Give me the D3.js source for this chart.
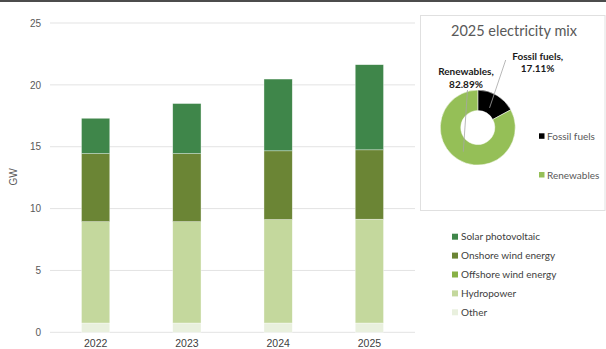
<!DOCTYPE html>
<html>
<head>
<meta charset="utf-8">
<script src="https://cdn.jsdelivr.net/npm/d3@7/dist/d3.min.js"></script>
<style>
  html, body { margin: 0; padding: 0; background: #fff; }
  svg { display: block; font-family: Lato, "Open Sans", sans-serif; }
</style>
</head>
<body>
<svg id="chart" width="606" height="349"></svg>
<script>
// Installed capacity by source (GW)
const years = ["2022", "2023", "2024", "2025"];
const other = [0.75, 0.75, 0.75, 0.75];
const hydropower = [8.19, 8.19, 8.36, 8.39];
const offshoreWind = [0, 0, 0, 0];
const onshoreWind = [5.50, 5.50, 5.56, 5.61];
const solarPV = [2.86, 4.05, 5.80, 6.88];
const yTicks = [0, 5, 10, 15, 20, 25];

// 2025 electricity mix (%)
const mixLabels = ["Fossil fuels", "Renewables"];
const mixShares = [17.11, 82.89];

const seriesNames = ["Other", "Hydropower", "Offshore wind energy", "Onshore wind energy", "Solar photovoltaic"];
const seriesColors = ["#e9f0de", "#c4d89d", "#88b146", "#6b8535", "#3f864a"];
const mixColors = ["#000000", "#95bf57"];

const svg = d3.select("#chart");

// top rule
svg.append("line").attr("x1", 0).attr("x2", 606).attr("y1", 1).attr("y2", 1)
  .attr("stroke", "#111").attr("stroke-width", 1.5);

// ---- stacked columns ----
const x = d3.scaleBand().domain(years).range([50, 415]).paddingInner(0.69).paddingOuter(0.345);
const y = d3.scaleLinear().domain([0, 25]).range([332.3, 23]);

svg.append("g").selectAll("line").data(yTicks).join("line")
  .attr("x1", 50).attr("x2", 415)
  .attr("y1", d => y(d)).attr("y2", d => y(d))
  .attr("stroke", "#e3e3e3").attr("stroke-width", 1);

const yAxis = d3.axisLeft(y).tickValues(yTicks).tickSize(0).tickPadding(9);
const gy = svg.append("g").attr("transform", "translate(50,0)").call(yAxis);
gy.select(".domain").remove();
gy.selectAll("text").attr("fill", "#595959").style("font-size", "10px")
  .style("font-family", "'Liberation Sans', Arial, sans-serif");

const xAxis = d3.axisBottom(x).tickSize(0).tickPadding(7);
const gx = svg.append("g").attr("transform", "translate(0,332.3)").call(xAxis);
gx.select(".domain").remove();
gx.selectAll("text").attr("fill", "#404040").style("font-size", "10.5px")
  .style("font-family", "'Liberation Sans', Arial, sans-serif");

svg.append("text").attr("transform", "translate(17,177) rotate(-90)")
  .attr("text-anchor", "middle").attr("fill", "#595959")
  .style("font-size", "10px").style("font-family", "'Liberation Sans', Arial, sans-serif")
  .text("GW");

const table = years.map((yr, i) => ({
  year: yr,
  "Other": other[i],
  "Hydropower": hydropower[i],
  "Offshore wind energy": offshoreWind[i],
  "Onshore wind energy": onshoreWind[i],
  "Solar photovoltaic": solarPV[i]
}));
const stacked = d3.stack().keys(seriesNames)(table);

svg.append("g").selectAll("g").data(stacked).join("g")
  .attr("fill", (d, i) => seriesColors[i])
  .selectAll("rect").data(d => d).join("rect")
  .attr("x", d => x(d.data.year))
  .attr("width", x.bandwidth())
  .attr("y", d => y(d[1]))
  .attr("height", d => y(d[0]) - y(d[1]))
  .attr("stroke", "#ffffff").attr("stroke-opacity", 0.6).attr("stroke-width", 0.6);

// bottom legend (top-down: solar first)
const legendOrder = seriesNames.slice().reverse();
const legColors = seriesColors.slice().reverse();
const lg = svg.append("g");
legendOrder.forEach((name, i) => {
  const cy = 236.7 + i * 18.9;
  lg.append("rect").attr("x", 452).attr("y", cy - 3).attr("width", 6).attr("height", 6)
    .attr("fill", legColors[i]);
  lg.append("text").attr("x", 461).attr("y", cy).attr("dy", "0.35em")
    .attr("fill", "#404040").style("font-size", "10px").text(name);
});

// ---- 2025 mix donut panel ----
svg.append("rect").attr("x", 420.5).attr("y", 15.5).attr("width", 184.5).attr("height", 195)
  .attr("fill", "#fff").attr("stroke", "#e0e0e0").attr("stroke-width", 1);

svg.append("text").attr("x", 514).attr("y", 36).attr("text-anchor", "middle")
  .attr("fill", "#595959").style("font-size", "14.5px").text("2025 electricity mix");

const cx = 477.8, cyD = 127.6, rOuter = 37.5, rInner = 17;
const pie = d3.pie().sort(null).value(d => d)(mixShares);
const arc = d3.arc().innerRadius(rInner).outerRadius(rOuter);
const donut = svg.append("g").attr("transform", `translate(${cx},${cyD})`);
donut.selectAll("path").data(pie).join("path")
  .attr("d", arc).attr("fill", (d, i) => mixColors[i])
  .attr("stroke", "#fff").attr("stroke-width", 0.5);

// leader lines from labels into the slices
const mid = d3.arc().innerRadius(rInner + 6).outerRadius(rInner + 6);
const leaders = [
  { from: [505.7, 60], to: mid.centroid(pie[0]) },
  { from: [467.5, 90], to: [463.3 - cx, 151.7 - cyD] }
];
leaders.forEach(l => {
  svg.append("line").attr("x1", l.from[0]).attr("y1", l.from[1])
    .attr("x2", cx + l.to[0]).attr("y2", cyD + l.to[1])
    .attr("stroke", "#a6a6a6").attr("stroke-width", 0.8);
});

const labelStyle = sel => sel.attr("text-anchor", "middle").attr("fill", "#1a1a1a")
  .style("font-size", "10px").style("font-weight", "bold");
svg.append("text").attr("x", 537.7).attr("y", 59.5).call(labelStyle).text(mixLabels[0] + ",");
svg.append("text").attr("x", 537.7).attr("y", 72).call(labelStyle).text(d3.format(".2f")(mixShares[0]) + "%");
svg.append("text").attr("x", 466).attr("y", 75).call(labelStyle).text(mixLabels[1] + ",");
svg.append("text").attr("x", 466).attr("y", 87.5).call(labelStyle).text(d3.format(".2f")(mixShares[1]) + "%");

// donut legend
mixLabels.forEach((name, i) => {
  const ly = 136.3 + i * 38.7;
  svg.append("rect").attr("x", 539).attr("y", ly - 3).attr("width", 5.5).attr("height", 5.5)
    .attr("fill", mixColors[i]);
  svg.append("text").attr("x", 547).attr("y", ly).attr("dy", "0.35em")
    .attr("fill", "#595959").style("font-size", "10px").text(name);
});
</script>
</body>
</html>
